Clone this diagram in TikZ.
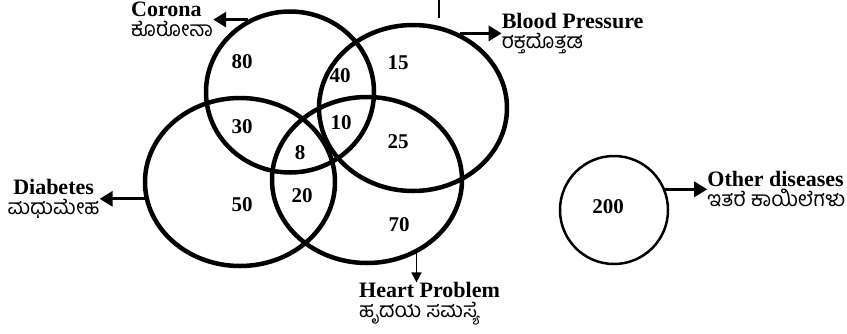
\documentclass[tikz,border=0pt]{standalone}
\usepackage{fontspec}
\setmainfont{Liberation Serif}
\newfontfamily\kn[Script=Kannada]{Hind Mysuru}
\usetikzlibrary{shapes.geometric,arrows.meta,positioning}

\newcommand{\tightlines}{\lineskiplimit -20pt\relax}
\newcommand{\kan}[1]{{\kn\mdseries\fontsize{21}{20}\selectfont #1}}
\tikzset{
  set/.style={draw, ellipse, line width=4.5pt, inner sep=0pt},
  num/.style={font=\fontsize{21}{21}\selectfont\bfseries, inner sep=0pt},
  lbl/.style={align=left, inner sep=0pt, font={\fontsize{22}{20}\selectfont\bfseries\tightlines}},
  pointer/.style={line width=3pt, -{Triangle[length=13pt,width=15pt]}},
}

\begin{document}
\begin{tikzpicture}[x=1pt,y=-1pt]
			\useasboundingbox (0,0) rectangle (847,333);
			% the four sets
			\node[set, minimum width=168pt, minimum height=161pt] (corona) at (290,92) {};
			\node[set, minimum width=188pt, minimum height=166pt] (bp) at (413,108) {};
			\node[set, minimum width=190pt, minimum height=168pt] (diab) at (240,182) {};
			\node[set, minimum width=190pt, minimum height=166pt] (heart) at (367,180) {};
			\node[draw, circle, line width=2.5pt, minimum size=108pt, inner sep=0pt] (other) at (614,210) {};
			% counts
			\node[num] (n80) at (242,62) {80};
			\node[num] (n40) at (340,76) {40};
			\node[num] (n15) at (398,63) {15};
			\node[num] (n30) at (242,127) {30};
			\node[num] (n10) at (341,123) {10};
			\node[num] (n8) at (300,153) {8};
			\node[num] (n25) at (398,142) {25};
			\node[num] (n50) at (242,205) {50};
			\node[num] (n20) at (302,196) {20};
			\node[num] (n70) at (399,225) {70};
			\node[num] (n200) at (608,207) {200};
			% labels
			\node[lbl, left=35pt of corona.120] (coronatxt) {Corona\\\kan{ಕೊರೋನಾ}};
			\node[lbl, right=42pt of bp.58] (bptxt) {Blood Pressure\\\kan{ರಕ್ತದೊತ್ತಡ}};
			\node[lbl, align=center, left=45pt of diab.190] (diabtxt) {Diabetes\\\kan{ಮಧುಮೇಹ}};
			\node[lbl, below=29pt of heart.-56, xshift=13pt] (hearttxt) {Heart Problem\\\kan{ಹೃದಯ ಸಮಸ್ಯೆ}};
			\node[lbl, right=42pt of other.22] (othertxt) {Other diseases\\\kan{ಇತರೆ ಕಾಯಿಲೆಗಳು}};
			% pointers
			\draw[pointer] (corona.120) -- (coronatxt.east);
			\draw[pointer] (bp.58) -- (bptxt.west);
			\draw[pointer] (diab.190) -- (diabtxt.east);
			\draw[pointer, line width=1.8pt, -{Triangle[length=10pt,width=10pt]}] (heart.-56) -- (heart.-56 |- hearttxt.north);
			\draw[pointer] (other.22) -- (othertxt.west);
			% stub at the top
			\coordinate (stubtop) at (439,0);
			\coordinate (stubend) at (439,18);
			\draw[line width=1.2pt] (stubtop) -- (stubend);
\end{tikzpicture}
\end{document}
